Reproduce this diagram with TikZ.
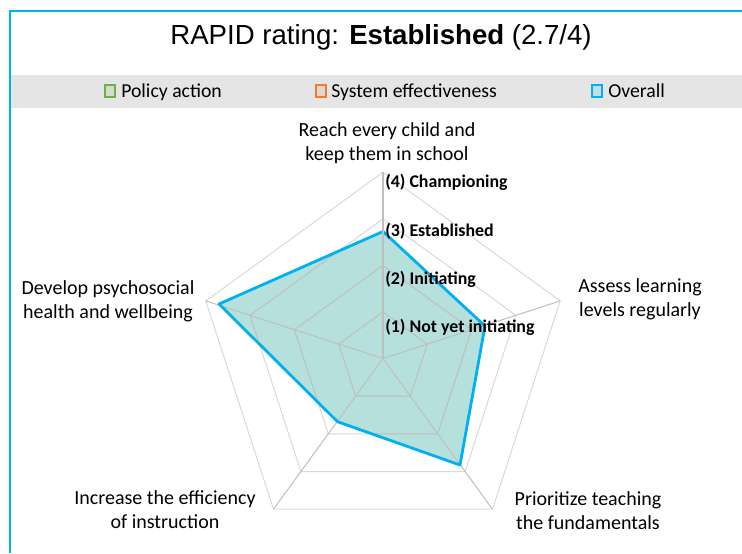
\documentclass[tikz,border=0pt]{standalone}
\usepackage{fontspec}
\usetikzlibrary{calc}
\setmainfont{Carlito}
\newfontfamily\titlefont{Liberation Sans}
\definecolor{frameblue}{HTML}{00B0F0}
\definecolor{bandgray}{HTML}{E5E5E5}
\definecolor{gridgray}{HTML}{D9D9D9}
\definecolor{axisgray}{HTML}{BFBFBF}
\definecolor{fillteal}{HTML}{B5E0DC}
\definecolor{polgreen}{HTML}{70AD47}
\definecolor{sysorange}{HTML}{ED7D31}
\tikzset{
 x=0.75pt,y=-0.75pt,
 grid line/.style={draw=gridgray,line width=0.75pt},
 axis line/.style={draw=axisgray,line width=0.75pt},
 lab/.style={font=\fontsize{15pt}{18pt}\selectfont,align=center,text=black,inner sep=0pt},
 lev/.style={font=\fontsize{13.4pt}{16pt}\selectfont\bfseries,anchor=base west,inner sep=0pt,text=black},
 leg/.style={font=\fontsize{14.8pt}{17pt}\selectfont,anchor=base west,inner sep=0pt,text=black},
 key/.style={line width=1.8pt,minimum width=7.5pt,minimum height=9pt,inner sep=0pt}
}
\begin{document}
\begin{tikzpicture}
\useasboundingbox (0,0) rectangle (742,553);
\fill[white] (0,0) rectangle (742,553);
\coordinate (O) at (383,358.5);
\foreach \n/\a in {a/90,b/18,c/-54,d/-126,e/162}{
 \coordinate (\n) at ($(O)+({186.3*cos(\a)},{-186.3*sin(\a)})$);
}
\fill[bandgray] (10,75) rectangle (742,108);
\draw[frameblue,line width=1.5pt] (9.5,553) -- (9.5,10.5) -- (742,10.5);
\node[inner sep=0pt,font=\titlefont\fontsize{20.7pt}{25pt}\selectfont] (title) at (381,37) {RAPID rating: \textbf{Established} (2.7/4)};
% grid
\foreach \f in {0.25,0.5,0.75,1}{
 \draw[grid line] ($(O)!\f!(a)$) -- ($(O)!\f!(b)$) -- ($(O)!\f!(c)$) -- ($(O)!\f!(d)$) -- ($(O)!\f!(e)$) -- cycle;
}
\foreach \n in {b,c,d,e}{\draw[axis line] (O) -- (\n);}
% series
\coordinate (pa) at (383,231.5);
\coordinate (pb) at (485,326);
\coordinate (pc) at (460,465);
\coordinate (pd) at (337.5,421.7);
\coordinate (pe) at (219,304);
\fill[fillteal] (pa) -- (pb) -- (pc) -- (pd) -- (pe) -- cycle;
\begin{scope}
\clip (pa) -- (pb) -- (pc) -- (pd) -- (pe) -- cycle;
\foreach \f in {0.25,0.5,0.75}{
 \draw[grid line,draw=axisgray] ($(O)!\f!(a)$) -- ($(O)!\f!(b)$) -- ($(O)!\f!(c)$) -- ($(O)!\f!(d)$) -- ($(O)!\f!(e)$) -- cycle;
}
\foreach \n in {b,c,d,e}{\draw[axis line] (O) -- (\n);}
\end{scope}
\draw[frameblue,line width=2.1pt,line join=round] (pa) -- (pb) -- (pc) -- (pd) -- (pe) -- cycle;
\draw[axis line,line width=1.3pt] (O) -- (a);
% legend
\node[key,draw=polgreen,fill=bandgray!85!polgreen] (k1) at (110,91) {};
\node[leg] (l1) at (121,97) {Policy action};
\node[key,draw=sysorange,fill=bandgray!85!sysorange] (k2) at (320.7,91) {};
\node[leg] (l2) at (331,97) {System effectiveness};
\node[key,draw=frameblue,fill=bandgray!85!frameblue] (k3) at (597,91) {};
\node[leg] (l3) at (608,97) {Overall};
% labels
\node[lab] (ta) at (387,143) {Reach every child and\\keep them in school};
\node[lab] (tb) at (640,299) {Assess learning\\levels regularly};
\node[lab] (tc) at (588,510.5) {Prioritize teaching\\the fundamentals};
\node[lab] (td) at (165,509.5) {Increase the efficiency\\of instruction};
\node[lab] (te) at (108,301) {Develop psychosocial\\health and wellbeing};
\node[lev] (v4) at (385,187) {(4) Championing};
\node[lev] (v3) at (385,236) {(3) Established};
\node[lev] (v2) at (385,284) {(2) Initiating};
\node[lev] (v1) at (385,332) {(1) Not yet initiating};
\end{tikzpicture}
\end{document}
